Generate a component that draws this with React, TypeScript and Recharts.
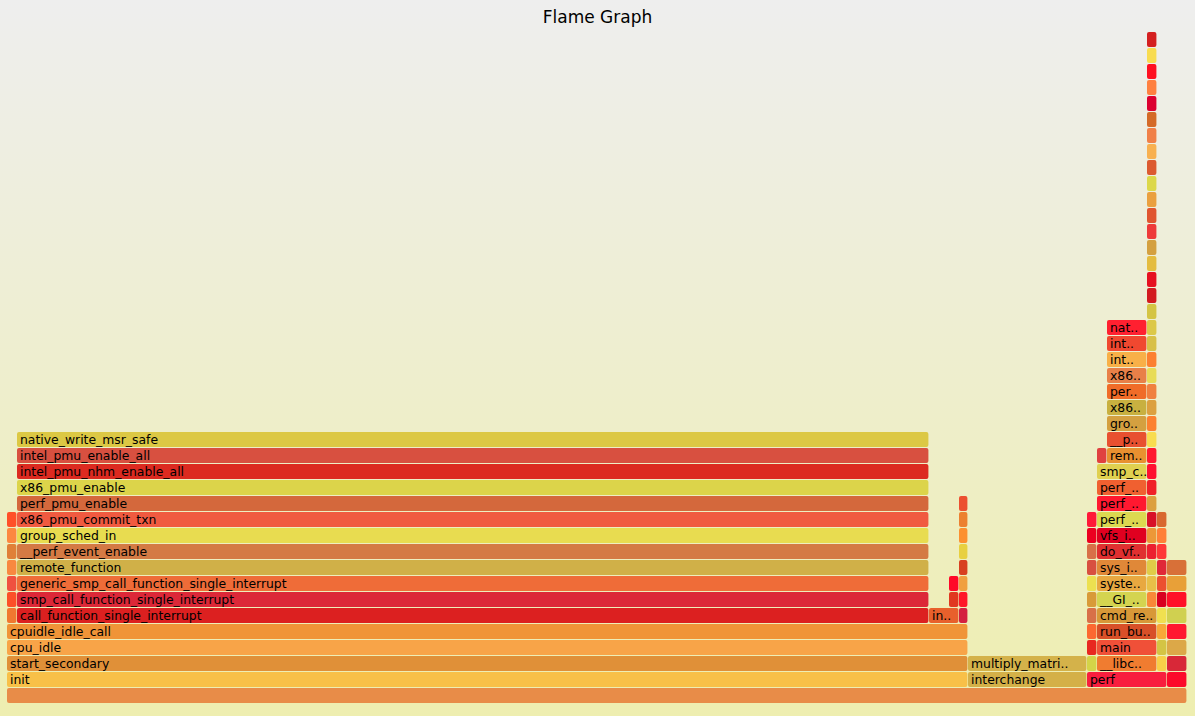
import React from 'react';
import { ComposedChart, XAxis, YAxis, Scatter, ReferenceArea } from 'recharts';

const TOTAL_SAMPLES = 1180;
const MAX_DEPTH = 42;

// each tower is a run of frames sharing the same sample range, stacked from a base depth
const towerStarts = [0, 0, 0, 10, 922, 942, 952, 961, 1080, 1080, 1090, 1090, 1090, 1100, 1140, 1150, 1160];
const towerEnds = [1180, 961, 10, 922, 952, 952, 961, 1080, 1160, 1090, 1150, 1140, 1100, 1140, 1150, 1160, 1180];
const towerBaseDepths = [0, 1, 5, 5, 5, 6, 5, 1, 1, 2, 2, 6, 15, 15, 6, 2, 1];

const towerNames: string[][] = [
  [''],
  ['init', 'start_secondary', 'cpu_idle', 'cpuidle_idle_call'],
  ['apic_timer_interrupt', 'smp_apic_timer_interrupt', 'irq_exit', 'do_softirq', '__do_softirq', 'run_timer_softirq', 'call_timer_fn'],
  [
    'call_function_single_interrupt', 'smp_call_function_single_interrupt', 'generic_smp_call_function_single_interrupt',
    'remote_function', '__perf_event_enable', 'group_sched_in', 'x86_pmu_commit_txn', 'perf_pmu_enable',
    'x86_pmu_enable', 'intel_pmu_nhm_enable_all', 'intel_pmu_enable_all', 'native_write_msr_safe',
  ],
  ['intel_idle'],
  ['apic_timer_interrupt', 'smp_apic_timer_interrupt'],
  ['irq_work_interrupt', 'smp_irq_work_interrupt', 'irq_work_run', '__irq_work_run', 'perf_pending_event', 'perf_event_wakeup', '__wake_up', '__wake_up_common'],
  ['interchange', 'multiply_matrices'],
  ['perf'],
  ['__GI___clone', 'start_thread', 'page_fault', 'do_page_fault', '__do_page_fault', 'handle_mm_fault', 'handle_pte_fault', 'do_anonymous_page', 'alloc_pages_vma', '__alloc_pages_nodemask'],
  ['__libc_start_main', 'main', 'run_builtin', 'cmd_record'],
  ['__GI___ioctl', 'system_call_fastpath', 'sys_ioctl', 'do_vfs_ioctl', 'vfs_ioctl', 'perf_ioctl', 'perf_event_for_each_child', 'perf_event_enable', 'smp_call_function_single'],
  ['generic_exec_single'],
  ['remote_function', '__perf_event_enable', 'group_sched_in', 'x86_pmu_commit_txn', 'perf_pmu_enable', 'x86_pmu_enable', 'intel_pmu_nhm_enable_all', 'intel_pmu_enable_all', 'native_write_msr_safe'],
  [
    '__GI___libc_write', 'system_call_fastpath', 'sys_write', 'vfs_write', 'do_sync_write', 'pipe_write',
    '__wake_up_sync_key', '__wake_up_common', 'pollwake', 'default_wake_function', 'try_to_wake_up', 'ttwu_do_activate',
    'activate_task', 'enqueue_task', 'enqueue_task_fair', 'enqueue_entity', 'update_cfs_shares', 'reweight_entity',
    'account_entity_enqueue', 'update_load_add', 'perf_swevent_event', 'perf_swevent_overflow', '__perf_event_overflow', 'perf_event_output',
    'perf_output_begin', 'perf_output_put_handle', 'irq_work_queue', 'arch_irq_work_raise', 'apic_send_IPI_self', '__default_send_IPI_shortcut',
    'native_apic_mem_write', 'apic_timer_interrupt', 'smp_apic_timer_interrupt', 'irq_exit', 'do_softirq', '__do_softirq',
  ],
  ['_start', '_dl_start', '_dl_start_final', '_dl_sysdep_start', 'dl_main', '_dl_relocate_object', '_dl_lookup_symbol_x', 'do_lookup_x', 'check_match', 'strcmp'],
  ['sh', '__execve', 'stub_execve', 'sys_execve', 'do_execve_common', 'search_binary_handler', 'load_elf_binary', 'flush_old_exec'],
];

// fill colours, one per frame, same layout as towerNames
const towerColors: string[][] = [
  ['#e88c48'],
  ['#f8c048', '#e09038', '#f8a448', '#f09438'],
  ['#f07830', '#fc5028', '#f05040', '#f88840', '#e08038', '#fc8840', '#ff5028'],
  ['#dc2020', '#dc2838', '#ef6c38', '#d0b048', '#d47a44', '#e8dc50', '#f05a40', '#d4683c', '#dcd44a', '#dc2a20', '#d85040', '#dcc844'],
  ['#e8602c'],
  ['#e03820', '#ff0828'],
  ['#d42040', '#ff1828', '#f0a040', '#d84020', '#e8d040', '#fc9030', '#ec8030', '#ec5030'],
  ['#d4b048', '#d4b24a'],
  ['#f81e3e'],
  ['#d4d448', '#e82820', '#fc6830', '#d87048', '#d89a38', '#ece050', '#d85040', '#d87048', '#ec0020', '#ff1838'],
  ['#f07c30', '#f05038', '#d85028', '#d89838'],
  ['#d4d450', '#e8a840', '#e08838', '#e03030', '#e00020', '#dcd850', '#ff1830', '#f06030', '#e0d050'],
  ['#e04040'],
  ['#e89030', '#e85030', '#d4a040', '#c8b040', '#f06c28', '#e88048', '#f8b048', '#f04830', '#ff2030'],
  [
    '#f88838', '#e8c048', '#e0cc48', '#ec2030', '#ec9838', '#d81028', '#dca040', '#f02028', '#ff1030',
    '#ff1830', '#f8dc50', '#fc8030', '#dca040', '#f08040', '#e8dc58', '#fc8030', '#d8c048', '#dcc848',
    '#d4c444', '#d21a20', '#e61020', '#e4bc40', '#d4a040', '#ee3a3a', '#e05530', '#eaa040', '#dcd84a',
    '#dc5a30', '#f8b050', '#f08048', '#d46a28', '#dc0030', '#ff8040', '#ff1020', '#f8dc50', '#d42020',
  ],
  ['#f8d048', '#d4c444', '#f8a838', '#f0e050', '#d80020', '#ec5030', '#e02838', '#ff3838', '#ff8038', '#d86830'],
  ['#fc0a2a', '#d82838', '#dca848', '#ff1830', '#d0d050', '#ff1028', '#e8a038', '#d87038'],
];

interface Frame {
  name: string;
  depth: number;
  start: number;
  end: number;
  color: string;
}

const frames: Frame[] = [];
towerNames.forEach((names, t) => {
  names.forEach((name, i) => {
    frames.push({
      name,
      depth: towerBaseDepths[t] + i,
      start: towerStarts[t],
      end: towerEnds[t],
      color: towerColors[t][i] || '#e88c48',
    });
  });
});

const anchors = frames.map(f => ({ x: f.start, y: f.depth }));

const FONT = "Verdana, 'DejaVu Sans', sans-serif";
const CHAR_W = 12 * 0.59;

function fitLabel(name: string, width: number) {
  if (width < 3 * CHAR_W) return '';
  const chars = Math.floor(width / CHAR_W);
  if (name.length <= chars) return name;
  return name.slice(0, chars - 2) + '..';
}

function FrameBox(props: any) {
  const { x, y, width, name, color } = props;
  const label = fitLabel(name, width);
  return (
    <g>
      <rect x={x} y={y} width={Math.max(width - 0.6, 0)} height={15} rx={2} ry={2} fill={color} />
      {label && (
        <text x={x + 3} y={y + 11.5} fontSize={12.4} fontFamily={FONT} fill="#000">
          {label}
        </text>
      )}
    </g>
  );
}

export default function App() {
  return (
    <div
      style={{
        position: 'absolute',
        left: 0,
        top: 0,
        width: 1195,
        height: 716,
        background: 'linear-gradient(#eeeeee, #eeeeb0)',
      }}
    >
      <div
        style={{
          position: 'absolute',
          top: 7,
          width: 1195,
          textAlign: 'center',
          fontFamily: FONT,
          fontSize: 17,
          lineHeight: '20px',
          color: '#000',
        }}
      >
        Flame Graph
      </div>
      <ComposedChart width={1195} height={716} margin={{ top: 32, right: 8, bottom: 12, left: 7 }}>
        <XAxis type="number" dataKey="x" domain={[0, TOTAL_SAMPLES]} hide allowDataOverflow />
        <YAxis type="number" dataKey="y" domain={[0, MAX_DEPTH]} hide allowDataOverflow />
        <Scatter data={anchors} isAnimationActive={false} shape={() => <g />} />
        {frames.map((f, i) => (
          <ReferenceArea
            key={i}
            x1={f.start}
            x2={f.end}
            y1={f.depth}
            y2={f.depth + 1}
            ifOverflow="visible"
            fillOpacity={1}
            shape={(p: any) => <FrameBox {...p} name={f.name} color={f.color} />}
          />
        ))}
      </ComposedChart>
    </div>
  );
}
